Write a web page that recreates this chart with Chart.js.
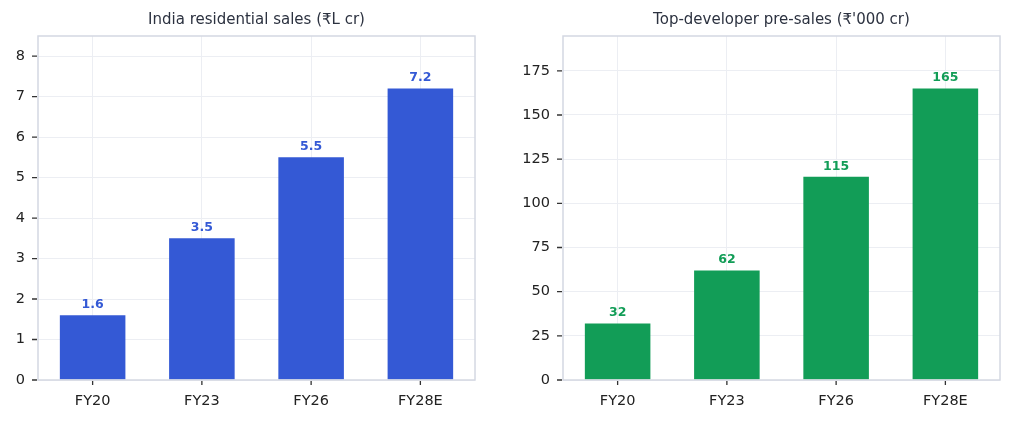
<!DOCTYPE html>
<html>
<head>
<meta charset="utf-8">
<script src="https://cdn.jsdelivr.net/npm/chart.js@4.4.1/dist/chart.umd.min.js"></script>
<style>
  body { margin: 0; background: #fff; }
  .wrap { position: relative; width: 1013px; height: 423px; }
  canvas { position: absolute; top: 0; }
</style>
</head>
<body>
<div class="wrap">
  <canvas id="salesChart" width="480" height="423" style="left:0"></canvas>
  <canvas id="presalesChart" width="503" height="423" style="left:510px"></canvas>
</div>
<script>
// ===== data =====
const years = ["FY20", "FY23", "FY26", "FY28E"];
const salesValues = [1.6, 3.5, 5.5, 7.2];        // ₹L cr
const presalesValues = [32, 62, 115, 165];       // ₹'000 cr

const FONT = "'DejaVu Sans', sans-serif";

// plot box outline, dark outward tick marks, title centred over the plot
const boxPlugin = {
  id: "box",
  afterDraw(chart, args, opts) {
    const a = chart.chartArea, ctx = chart.ctx;
    ctx.save();
    ctx.strokeStyle = "#d4d8e2";
    ctx.lineWidth = 1.5;
    ctx.strokeRect(a.left, a.top, a.right - a.left, a.bottom - a.top);

    ctx.strokeStyle = "#333";
    ctx.lineWidth = 1.3;
    const xs = chart.scales.x, ys = chart.scales.y;
    ctx.beginPath();
    xs.ticks.forEach((t, i) => {
      const px = xs.getPixelForTick(i);
      ctx.moveTo(px, a.bottom + 1);
      ctx.lineTo(px, a.bottom + 5);
    });
    ys.ticks.forEach((t, i) => {
      const py = ys.getPixelForTick(i);
      ctx.moveTo(a.left - 1, py);
      ctx.lineTo(a.left - 6, py);
    });
    ctx.stroke();

    ctx.font = "15px " + FONT;
    ctx.fillStyle = "#2c3240";
    ctx.textAlign = "center";
    ctx.textBaseline = "middle";
    ctx.fillText(opts.text, (a.left + a.right) / 2, 20);
    ctx.restore();
  }
};

// value labels above bars
const labelPlugin = {
  id: "barLabels",
  afterDatasetsDraw(chart) {
    const ctx = chart.ctx;
    const ds = chart.data.datasets[0];
    chart.getDatasetMeta(0).data.forEach((bar, i) => {
      ctx.save();
      ctx.font = "bold 12.5px " + FONT;
      ctx.fillStyle = ds.backgroundColor;
      ctx.textAlign = "center";
      ctx.textBaseline = "bottom";
      ctx.fillText(String(ds.data[i]), bar.x, bar.y - 4);
      ctx.restore();
    });
  }
};

function makeChart(id, title, values, color, step, axisWidth, padRight) {
  new Chart(document.getElementById(id), {
    type: "bar",
    data: {
      labels: years,
      datasets: [{
        data: values,
        backgroundColor: color,
        barPercentage: 0.6,
        categoryPercentage: 1
      }]
    },
    options: {
      responsive: false,
      animation: false,
      layout: { padding: { top: 36, right: padRight } },
      plugins: {
        legend: { display: false },
        tooltip: { enabled: false },
        title: { display: false },
        box: { text: title }
      },
      scales: {
        x: {
          grid: { offset: false, color: "#eceef3", tickColor: "transparent", tickLength: 6, lineWidth: 1 },
          border: { display: false },
          ticks: { color: "#222", font: { family: FONT, size: 14.5 }, padding: 7 },
          afterFit(s) { s.height = 43; }
        },
        y: {
          min: 0,
          max: Math.max(...values) * 1.18,
          grid: { color: "#eceef3", tickColor: "transparent", tickLength: 6, lineWidth: 1 },
          border: { display: false },
          ticks: { stepSize: step, includeBounds: false, color: "#222", font: { family: FONT, size: 14.5 }, padding: 7 },
          afterFit(s) { s.width = axisWidth; }
        }
      }
    },
    plugins: [boxPlugin, labelPlugin]
  });
}

makeChart("salesChart", "India residential sales (₹L cr)", salesValues, "#3459d5", 1, 38, 5);
makeChart("presalesChart", "Top-developer pre-sales (₹'000 cr)", presalesValues, "#129d57", 25, 53, 13);
</script>
</body>
</html>
